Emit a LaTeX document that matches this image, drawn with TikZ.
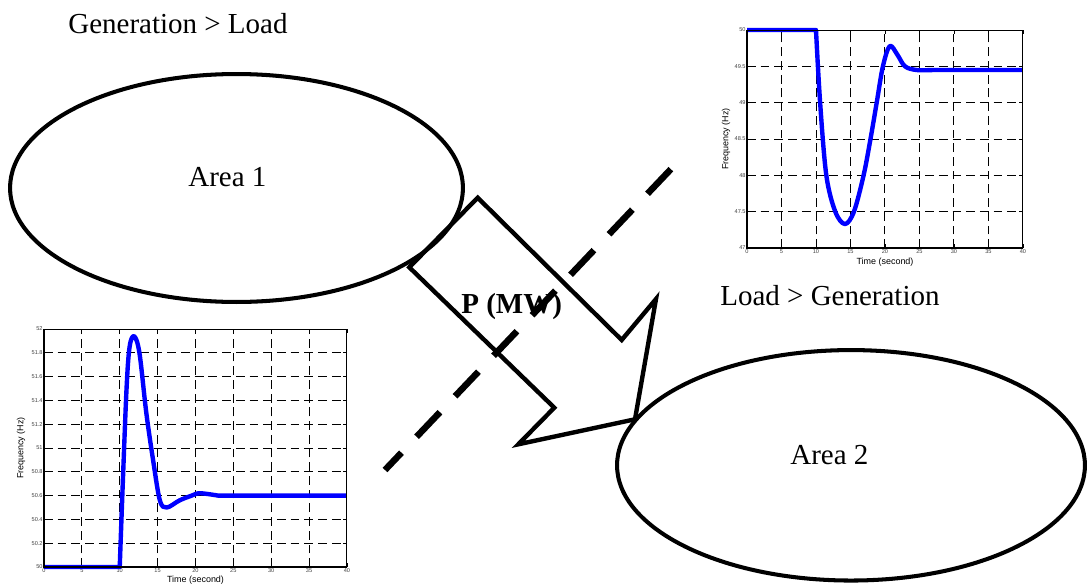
\documentclass[tikz,border=0pt]{standalone}
\usepackage{fontspec}
\setmainfont{Liberation Serif}
\newfontfamily\plotfont{Liberation Sans}
\usetikzlibrary{shapes.geometric}

\tikzset{
  area/.style={draw, ellipse, line width=2.3pt, inner sep=0pt},
  bigtext/.style={inner sep=0pt, anchor=base west, font=\fontsize{16.5}{19}\selectfont},
  gridline/.style={line width=0.55pt, dash pattern=on 5pt off 2.8pt},
  freq/.style={blue, line width=2.5pt, line join=round},
  ticklabel/.style={font=\plotfont\fontsize{3.2}{4}\selectfont, text=black!75, inner sep=0.6pt},
  axislabel/.style={font=\plotfont\fontsize{5.1}{6}\selectfont, inner sep=0pt},
  cutline/.style={line width=3.7pt, dash pattern=on 19.3pt off 12.5pt, dash phase=5.7pt},
}

\begin{document}
\begin{tikzpicture}[x=0.02cm, y=-0.02cm]
\useasboundingbox (0,0) rectangle (1090,585);
% areas
\node[area, minimum width=9.06cm, minimum height=4.56cm] (area1) at (236.5,188) {};
\node[area, minimum width=9.36cm, minimum height=4.61cm] (area2) at (851,465.3) {};
\node[bigtext] (name1) at (188,186) {Area 1};
\node[bigtext] (name2) at (790,464) {Area 2};
\node[bigtext] (gen1) at (68,33) {Generation > Load}; % top label
\node[bigtext] (gen2) at (720,305) {Load > Generation}; % right label
% power flow arrow
\draw[line width=2.5pt] (477.7,197.7) -- (621.7,340) -- (656,299) -- (635,419.3)
  -- (518.3,444.3) -- (554.3,407.7) -- (409.3,267.3) -- cycle;
% cut line
\coordinate (cutlow) at (385,470);
\coordinate (cuthigh) at (671.7,168.3);
\draw[cutline] (cutlow) -- (cuthigh);
\node[bigtext, font=\fontsize{16.5}{19}\selectfont\bfseries] (flow) at (461,313) {P (MW)};

% frequency of area 1 (top right)
\begin{scope}[shift={(747,248)}, x=0.138cm, y=1.4533cm, shift={(0,-47)}]
\foreach \t in {5,10,...,35} \draw[gridline] (\t,47) -- (\t,50);
\foreach \f in {47.5,48,48.5,49,49.5} \draw[gridline] (0,\f) -- (40,\f);
\foreach \t in {0,5,...,40} {
  \draw[line width=0.5pt] (\t,47) -- ++(0,2pt) (\t,50) -- ++(0,-2pt);
  \node[ticklabel, below] at (\t,47) {\t};
}
\foreach \f in {47,47.5,48,48.5,49,49.5,50} {
  \draw[line width=0.5pt] (0,\f) -- ++(2pt,0) (40,\f) -- ++(-2pt,0);
  \node[ticklabel, left] at (0,\f) {\f};
}
\draw[freq] (0,50) -- (10,50) -- plot[smooth, tension=0.55] coordinates {(10,50) (10.6,49.0)
  (11.5,48.0) (12.8,47.5) (14.2,47.33) (15.5,47.5) (16.9,48.0) (17.9,48.5) (18.8,49.0)
  (19.7,49.5) (20.7,49.78) (21.8,49.66) (22.9,49.5) (24.6,49.45) (27,49.45)} -- (40,49.45);
\draw[line width=0.6pt] (0,47) rectangle (40,50);
\end{scope}
\node[axislabel] (time1) at (885,262) {Time (second)};
\node[axislabel, rotate=90] (fhz1) at (726,139) {Frequency (Hz)};

% frequency of area 2 (bottom left)
\begin{scope}[shift={(44,567)}, x=0.1515cm, y=2.38cm, shift={(0,-50)}]
\foreach \t in {5,10,...,35} \draw[gridline] (\t,50) -- (\t,52);
\foreach \f in {50.2,50.4,50.6,50.8,51,51.2,51.4,51.6,51.8} \draw[gridline] (0,\f) -- (40,\f);
\foreach \t in {0,5,...,40} {
  \draw[line width=0.5pt] (\t,50) -- ++(0,2pt) (\t,52) -- ++(0,-2pt);
  \node[ticklabel, below] at (\t,50) {\t};
}
\foreach \f in {50,50.2,50.4,50.6,50.8,51,51.2,51.4,51.6,51.8,52} {
  \draw[line width=0.5pt] (0,\f) -- ++(2pt,0) (40,\f) -- ++(-2pt,0);
  \node[ticklabel, left] at (0,\f) {\f};
}
\draw[freq] (0,50) -- (10,50) -- plot[smooth, tension=0.55] coordinates {(10,50) (10.4,50.7)
  (10.9,51.5) (11.3,51.85) (11.9,51.94) (12.6,51.8) (13.5,51.3) (14.4,50.9) (15.3,50.56)
  (16.2,50.5) (17.9,50.56) (19.5,50.6) (20.6,50.62) (23,50.6)} -- (40,50.6);
\draw[line width=0.6pt] (0,50) rectangle (40,52);
\end{scope}
\node[axislabel] (time2) at (195.5,580) {Time (second)};
\node[axislabel, rotate=90] (fhz2) at (21,448) {Frequency (Hz)};
\end{tikzpicture}
\end{document}
